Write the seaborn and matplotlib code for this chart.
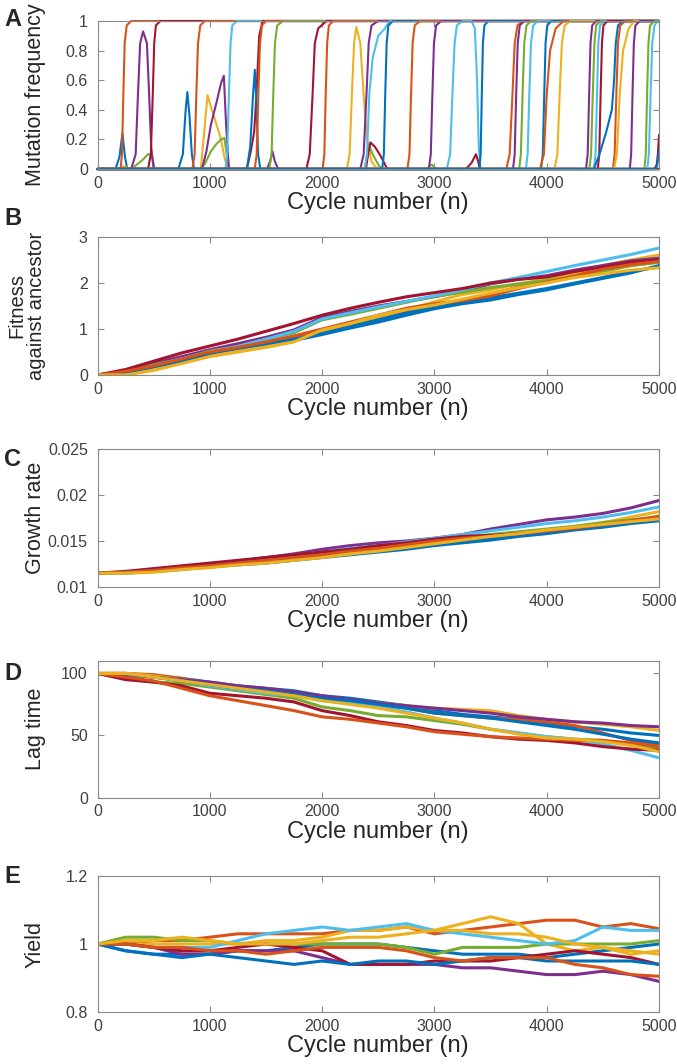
import numpy as np
import pandas as pd
import matplotlib
matplotlib.use("Agg")
import matplotlib.pyplot as plt
import seaborn as sns

# %%
# MATLAB default line colours
blue = "#0072BD"; orange = "#D95319"; yellow = "#EDB120"; purple = "#7E2F8E"
green = "#77AC30"; lightblue = "#4DBEEE"; darkred = "#A2142F"
line_colours = [blue, orange, yellow, purple, green, lightblue, darkred, blue, orange, yellow]

cycles = [0, 250, 500, 750, 1000, 1250, 1500, 1750, 2000, 2250, 2500,
          2750, 3000, 3250, 3500, 3750, 4000, 4250, 4500, 4750, 5000]

# %% panel A: mutation frequency trajectories (one population)
a_x = [
    [0, 160, 195, 222, 245, 265, 5000],
    [0, 200, 240, 280, 5000],
    [0, 205, 218, 230, 242, 260, 300, 5000],
    [0, 300, 350, 400, 450, 480, 510, 5000],
    [0, 300, 340, 360, 380, 406, 440, 460, 478, 500, 5000],
    [0, 450, 475, 492, 505, 520, 560, 5000],
    [0, 720, 760, 785, 800, 820, 840, 860, 5000],
    [0, 845, 865, 880, 895, 915, 955, 5000],
    [0, 920, 950, 980, 1010, 1060, 1100, 1130, 1160, 5000],
    [0, 920, 960, 1010, 1060, 1100, 1130, 1150, 1175, 5000],
    [0, 930, 970, 1010, 1060, 1100, 1125, 1145, 1170, 5000],
    [0, 1140, 1155, 1170, 1185, 1200, 1240, 5000],
    [0, 1330, 1365, 1395, 1415, 1440, 1470, 5000],
    [0, 1330, 1360, 1385, 1401, 1415, 1430, 1450, 5000],
    [0, 1400, 1418, 1432, 1447, 1465, 1500, 5000],
    [0, 1510, 1540, 1558, 1580, 1610, 5000],
    [0, 1530, 1550, 1565, 1580, 1600, 1650, 5000],
    [0, 1860, 1890, 1915, 1935, 1965, 2040, 5000],
    [0, 2005, 2020, 2032, 2045, 2060, 2100, 5000],
    [0, 2220, 2245, 2265, 2285, 2305, 2340, 2370, 2400, 2440, 2490, 5000],
    [0, 2340, 2370, 2395, 2415, 2440, 2500, 5000],
    [0, 2380, 2400, 2414, 2450, 2500, 2530, 5000],
    [0, 2390, 2410, 2430, 2470, 2520, 2560, 2580, 5000],
    [0, 2380, 2400, 2420, 2450, 2500, 2560, 2600, 5000],
    [0, 2535, 2550, 2562, 2575, 2590, 2630, 5000],
    [0, 2760, 2778, 2792, 2806, 2825, 2870, 5000],
    [0, 2930, 2975, 3020, 5000],
    [0, 2950, 2968, 2982, 2996, 3015, 3060, 5000],
    [0, 3110, 3140, 3160, 3180, 3200, 3250, 3330, 3360, 3380, 3395, 3410, 5000],
    [0, 3280, 3330, 3370, 3390, 3405, 5000],
    [0, 3400, 3412, 3422, 3432, 3445, 3480, 5000],
    [0, 3640, 3670, 3695, 3715, 3740, 3790, 5000],
    [0, 3700, 3715, 3728, 3742, 3760, 3800, 5000],
    [0, 3755, 3770, 3785, 3800, 3820, 3860, 5000],
    [0, 3815, 3830, 3845, 3860, 3880, 3920, 5000],
    [0, 3950, 3965, 3978, 3990, 4005, 4040, 5000],
    [0, 3940, 3975, 4000, 4030, 4080, 4150, 5000],
    [0, 4070, 4095, 4115, 4135, 4160, 4210, 5000],
    [0, 4350, 4365, 4378, 4390, 4405, 4440, 5000],
    [0, 4380, 4395, 4410, 4425, 4440, 4480, 5000],
    [0, 4420, 4435, 4448, 4460, 4475, 4510, 5000],
    [0, 4455, 4468, 4480, 4492, 4505, 4540, 5000],
    [0, 4420, 4470, 4530, 4580, 4600, 4615, 4635, 4680, 5000],
    [0, 4590, 4605, 4620, 4635, 4655, 4700, 5000],
    [0, 4600, 4625, 4650, 4680, 4730, 4780, 5000],
    [0, 4740, 4752, 4764, 4776, 4790, 4830, 5000],
    [0, 4870, 4882, 4894, 4906, 4920, 4960, 5000],
    [0, 4895, 4910, 4925, 4940, 4960, 4990, 5000],
    [0, 4960, 4980, 4990, 5000],
    [0, 4970, 4985, 5000],
]
fix = [0, 0, 0.1, 0.5, 0.85, 0.97, 1, 1]
a_y = [
    [0, 0, 0.08, 0.24, 0.08, 0, 0],
    [0, 0, 0.02, 0, 0],
    fix,
    [0, 0, 0.03, 0.06, 0.1, 0.1, 0, 0],
    [0, 0, 0.1, 0.5, 0.85, 0.93, 0.85, 0.5, 0.15, 0, 0],
    fix,
    [0, 0, 0.1, 0.4, 0.52, 0.35, 0.1, 0, 0],
    fix,
    [0, 0, 0.25, 0.5, 0.42, 0.3, 0.2, 0.08, 0, 0],
    [0, 0, 0.04, 0.12, 0.17, 0.2, 0.21, 0.1, 0, 0],
    [0, 0, 0.12, 0.3, 0.45, 0.58, 0.63, 0.3, 0, 0],
    fix,
    [0, 0, 0.12, 0.25, 0.5, 0.9, 1, 1],
    [0, 0, 0.15, 0.5, 0.67, 0.45, 0.1, 0, 0],
    fix,
    [0, 0, 0.06, 0.12, 0.05, 0, 0],
    fix,
    [0, 0, 0.1, 0.5, 0.85, 0.95, 1, 1],
    fix,
    [0, 0, 0.1, 0.5, 0.85, 0.96, 0.85, 0.5, 0.2, 0.05, 0, 0],
    fix,
    [0, 0, 0.1, 0.17, 0.1, 0.03, 0, 0],
    [0, 0, 0.1, 0.18, 0.15, 0.09, 0.03, 0, 0],
    [0, 0, 0.1, 0.5, 0.75, 0.9, 0.95, 1, 1],
    fix,
    fix,
    [0, 0, 0.03, 0, 0],
    fix,
    [0, 0, 0.1, 0.5, 0.85, 0.97, 1, 1, 0.95, 0.6, 0.15, 0, 0],
    [0, 0, 0.04, 0.1, 0.05, 0, 0],
    fix,
    fix,
    fix,
    fix,
    fix,
    fix,
    [0, 0, 0.1, 0.5, 0.8, 0.95, 1, 1],
    fix,
    fix,
    fix,
    fix,
    fix,
    [0, 0, 0.1, 0.25, 0.4, 0.6, 0.85, 0.97, 1, 1],
    fix,
    [0, 0, 0.1, 0.5, 0.8, 0.95, 1, 1],
    fix,
    fix,
    [0, 0, 0.1, 0.5, 0.85, 0.97, 1],
    [0, 0, 0.03, 0.1, 0.23],
    [0, 0, 0.03, 0.12],
]
a_colours = [blue, yellow, orange, green, purple, darkred, blue, orange, yellow, green,
             purple, lightblue, darkred, blue, orange, purple, green, darkred, orange, yellow,
             purple, green, darkred, lightblue, blue, orange, green, purple, lightblue, darkred,
             blue, orange, purple, green, lightblue, blue, orange, yellow, purple, green,
             lightblue, darkred, blue, orange, yellow, purple, green, lightblue, darkred, blue]

# %% panel B: fitness against ancestor
fitness = [
    [0, 0.02, 0.15, 0.28, 0.45, 0.55, 0.65, 0.75, 0.88, 1.02, 1.15, 1.3, 1.44, 1.55, 1.63, 1.75, 1.85, 1.98, 2.1, 2.22, 2.38],
    [0, 0.05, 0.2, 0.32, 0.5, 0.6, 0.7, 0.8, 0.98, 1.1, 1.25, 1.4, 1.52, 1.6, 1.75, 1.92, 2.05, 2.18, 2.28, 2.38, 2.46],
    [0, 0.0, 0.12, 0.28, 0.43, 0.52, 0.62, 0.75, 0.95, 1.1, 1.25, 1.42, 1.59, 1.75, 1.85, 1.98, 2.09, 2.22, 2.38, 2.5, 2.61],
    [0, 0.08, 0.25, 0.4, 0.55, 0.68, 0.82, 0.98, 1.25, 1.38, 1.5, 1.6, 1.7, 1.82, 1.98, 2.08, 2.16, 2.28, 2.38, 2.48, 2.54],
    [0, 0.05, 0.22, 0.35, 0.52, 0.62, 0.78, 0.92, 1.2, 1.32, 1.45, 1.58, 1.71, 1.8, 1.9, 1.98, 2.05, 2.15, 2.25, 2.38, 2.45],
    [0, 0.05, 0.2, 0.35, 0.5, 0.62, 0.78, 0.95, 1.22, 1.35, 1.48, 1.6, 1.72, 1.85, 2.0, 2.12, 2.25, 2.38, 2.5, 2.62, 2.76],
    [0, 0.12, 0.3, 0.48, 0.63, 0.78, 0.95, 1.12, 1.3, 1.45, 1.58, 1.7, 1.79, 1.88, 2.0, 2.08, 2.13, 2.25, 2.35, 2.45, 2.5],
    [0, 0.05, 0.18, 0.3, 0.47, 0.58, 0.68, 0.78, 0.9, 1.05, 1.2, 1.35, 1.47, 1.57, 1.68, 1.78, 1.88, 2.0, 2.12, 2.25, 2.35],
    [0, 0.08, 0.2, 0.35, 0.5, 0.6, 0.72, 0.85, 1.0, 1.15, 1.3, 1.45, 1.55, 1.62, 1.72, 1.88, 2.02, 2.15, 2.3, 2.4, 2.47],
    [0, 0.0, 0.1, 0.25, 0.4, 0.5, 0.6, 0.72, 0.98, 1.12, 1.3, 1.42, 1.52, 1.65, 1.78, 1.9, 2.0, 2.12, 2.2, 2.28, 2.33],
]

# %% panel C: growth rate
growth = [
    [.0115, .0115, .0117, .0119, .0122, .0124, .0126, .0129, .0132, .0135, .0138, .0141, .0145, .0148, .0151, .0155, .0158, .0162, .0165, .0169, .0172],
    [.0115, .0116, .0119, .0121, .0124, .0126, .0129, .0132, .0135, .0138, .0142, .0146, .0149, .0152, .0154, .0157, .0160, .0163, .0166, .0171, .0175],
    [.0115, .0115, .0117, .0120, .0122, .0125, .0127, .0130, .0133, .0136, .0140, .0143, .0147, .0151, .0154, .0157, .0161, .0165, .0170, .0176, .0182],
    [.0115, .0116, .0119, .0122, .0125, .0128, .0132, .0136, .0141, .0145, .0148, .0150, .0153, .0157, .0163, .0168, .0173, .0176, .0180, .0186, .0194],
    [.0115, .0116, .0118, .0121, .0124, .0127, .0130, .0133, .0137, .0140, .0143, .0147, .0151, .0154, .0157, .0160, .0163, .0166, .0170, .0173, .0176],
    [.0115, .0115, .0118, .0121, .0124, .0127, .0130, .0134, .0138, .0142, .0145, .0149, .0153, .0157, .0161, .0165, .0169, .0172, .0176, .0181, .0187],
    [.0115, .0117, .0120, .0123, .0126, .0129, .0132, .0135, .0138, .0141, .0145, .0148, .0152, .0155, .0156, .0158, .0160, .0163, .0167, .0171, .0175],
    [.0115, .0116, .0118, .0120, .0123, .0125, .0128, .0131, .0134, .0137, .0140, .0143, .0146, .0149, .0152, .0156, .0159, .0163, .0166, .0170, .0174],
    [.0115, .0116, .0118, .0121, .0123, .0126, .0129, .0132, .0135, .0139, .0142, .0146, .0150, .0153, .0155, .0158, .0161, .0164, .0168, .0172, .0177],
    [.0115, .0115, .0116, .0119, .0121, .0124, .0126, .0129, .0132, .0136, .0139, .0143, .0147, .0151, .0155, .0158, .0162, .0165, .0168, .0171, .0174],
]

# %% panel D: lag time
lag = [
    [100, 100, 98, 96, 93, 90, 88, 86, 82, 80, 77, 74, 70, 67, 65, 63, 60, 57, 55, 52, 50],
    [100, 100, 99, 96, 92, 89, 87, 84, 80, 78, 75, 72, 68, 66, 64, 63, 61, 58, 52, 46, 42],
    [100, 100, 98, 95, 92, 89, 87, 84, 81, 78, 76, 74, 72, 71, 70, 66, 63, 61, 59, 57, 54],
    [100, 99, 97, 95, 93, 90, 88, 85, 82, 79, 76, 74, 72, 70, 68, 65, 63, 61, 60, 58, 57],
    [100, 96, 93, 92, 89, 86, 83, 80, 73, 70, 66, 65, 62, 59, 55, 52, 49, 47, 46, 42, 39],
    [100, 99, 97, 94, 90, 87, 84, 82, 78, 76, 73, 69, 64, 60, 55, 52, 49, 47, 43, 38, 32],
    [100, 95, 93, 90, 84, 82, 80, 77, 70, 66, 61, 58, 54, 52, 49, 47, 46, 44, 41, 39, 38],
    [100, 99, 97, 94, 91, 88, 86, 83, 80, 78, 75, 72, 68, 66, 64, 61, 58, 55, 51, 47, 44],
    [100, 97, 94, 88, 82, 78, 74, 70, 65, 63, 60, 57, 53, 51, 49, 48, 47, 46, 46, 44, 41],
    [100, 100, 97, 94, 91, 88, 85, 82, 78, 75, 72, 68, 64, 60, 55, 51, 48, 47, 45, 42, 37],
]

# %% panel E: yield
yld = [
    [1.0, 0.98, 0.97, 0.97, 0.97, 0.98, 0.98, 0.99, 1.0, 1.0, 1.0, 0.99, 0.98, 0.97, 0.97, 0.97, 0.96, 0.97, 0.98, 0.99, 1.0],
    [1.0, 1.0, 1.01, 1.01, 1.02, 1.03, 1.03, 1.03, 1.03, 1.04, 1.04, 1.05, 1.03, 1.04, 1.05, 1.06, 1.07, 1.07, 1.05, 1.06, 1.045],
    [1.0, 1.0, 1.0, 1.0, 1.0, 1.0, 1.01, 1.01, 1.02, 1.04, 1.04, 1.05, 1.04, 1.06, 1.08, 1.06, 1.0, 0.98, 0.99, 0.97, 0.98],
    [1.0, 1.0, 0.99, 0.97, 0.97, 0.98, 0.98, 0.98, 0.96, 0.94, 0.94, 0.94, 0.94, 0.93, 0.93, 0.92, 0.91, 0.91, 0.92, 0.91, 0.89],
    [1.0, 1.02, 1.02, 1.01, 1.01, 1.0, 1.0, 1.0, 1.0, 1.0, 1.0, 0.99, 0.97, 0.99, 0.99, 0.99, 1.0, 1.0, 1.0, 1.0, 1.01],
    [1.0, 1.0, 0.99, 0.99, 0.99, 1.01, 1.03, 1.04, 1.05, 1.04, 1.05, 1.06, 1.04, 1.03, 1.02, 1.01, 1.0, 1.01, 1.05, 1.04, 1.04],
    [1.0, 1.0, 0.99, 0.98, 0.98, 0.99, 1.0, 0.99, 0.98, 0.94, 0.94, 0.94, 0.95, 0.95, 0.95, 0.96, 0.97, 0.98, 0.97, 0.96, 0.94],
    [1.0, 0.98, 0.97, 0.96, 0.97, 0.96, 0.95, 0.94, 0.95, 0.94, 0.95, 0.95, 0.94, 0.95, 0.96, 0.96, 0.95, 0.95, 0.95, 0.95, 0.94],
    [1.0, 1.0, 0.99, 0.99, 0.98, 0.98, 0.97, 0.98, 0.99, 0.99, 0.99, 0.98, 0.96, 0.95, 0.96, 0.96, 0.96, 0.94, 0.93, 0.91, 0.905],
    [1.0, 1.01, 1.01, 1.02, 1.01, 1.0, 1.0, 1.0, 1.01, 1.02, 1.02, 1.03, 1.04, 1.04, 1.03, 1.03, 1.02, 1.0, 0.99, 0.98, 0.97],
]

# %%
sns.set_style("ticks")
plt.rcParams["font.family"] = ["Liberation Sans", "DejaVu Sans"]
spine_col = "#8a8a8a"
tick_col = "#404040"

fig = plt.figure(figsize=(6.77, 10.64), dpi=100)
H = 1064.0
W = 677.0
# (top px, bottom px) of each panel box
boxes = [(21, 169), (237, 375), (449, 587), (661, 797.5), (876, 1012)]
axes = []
for top, bot in boxes:
    axes.append(fig.add_axes([97.5 / W, 1 - bot / H, (659 - 97.5) / W, (bot - top) / H]))

# panel A
rows = []
for i, (xs, ys) in enumerate(zip(a_x, a_y)):
    for x, y in zip(xs, ys):
        rows.append((i, x, y))
df_a = pd.DataFrame(rows, columns=["mut", "cycle", "freq"])
sns.lineplot(data=df_a, x="cycle", y="freq", hue="mut", palette=a_colours,
             estimator=None, sort=False, legend=False, lw=1.5, ax=axes[0], clip_on=False)

# panels B-E
def long_df(series):
    rows = []
    for i, vals in enumerate(series):
        for x, v in zip(cycles, vals):
            rows.append((i, x, v))
    return pd.DataFrame(rows, columns=["line", "cycle", "value"])

for ax, series in zip(axes[1:], [fitness, growth, lag, yld]):
    sns.lineplot(data=long_df(series), x="cycle", y="value", hue="line", palette=line_colours,
                 estimator=None, sort=False, legend=False, lw=2.2, ax=ax)

ylabels = ["Mutation frequency", "Fitness\nagainst ancestor", "Growth rate", "Lag time", "Yield"]
ylabel_sizes = [15.5, 14.5, 15.5, 15.5, 15.5]
ylims = [(0, 1), (0, 3), (0.01, 0.025), (0, 110), (0.8, 1.2)]
yticks = [[0, 0.2, 0.4, 0.6, 0.8, 1], [0, 1, 2, 3], [0.01, 0.015, 0.02, 0.025], [0, 50, 100], [0.8, 1, 1.2]]
yticklabels = [["0", "0.2", "0.4", "0.6", "0.8", "1"], ["0", "1", "2", "3"],
               ["0.01", "0.015", "0.02", "0.025"], ["0", "50", "100"], ["0.8", "1", "1.2"]]
letters = ["A", "B", "C", "D", "E"]
letter_tops = [8, 207, 448, 662, 865]

for ax, yl, ys, lim, yt, ytl, let, lt in zip(axes, ylabels, ylabel_sizes, ylims, yticks,
                                             yticklabels, letters, letter_tops):
    ax.set_xlim(0, 5000)
    ax.set_ylim(*lim)
    ax.set_xticks([0, 1000, 2000, 3000, 4000, 5000])
    ax.set_xticklabels(["0", "1000", "2000", "3000", "4000", "5000"])
    ax.set_yticks(yt)
    ax.set_yticklabels(ytl)
    ax.tick_params(direction="in", top=True, right=True, length=4, width=0.8,
                   color=spine_col, labelcolor=tick_col, labelsize=11.5)
    ax.tick_params(axis="x", pad=5)
    ax.tick_params(axis="y", pad=7)
    for s in ax.spines.values():
        s.set_visible(True)
        s.set_color(spine_col)
        s.set_linewidth(0.8)
    ax.set_xlabel("Cycle number (n)", fontsize=17, labelpad=1)
    ax.set_ylabel(yl, fontsize=ys, linespacing=1.0)
    ax.yaxis.set_label_coords(-0.092, 0.5)
    fig.text(4 / W, 1 - lt / H, let, fontsize=17, fontweight="bold", va="top", ha="left")

fig.savefig("out.png", dpi=100)
